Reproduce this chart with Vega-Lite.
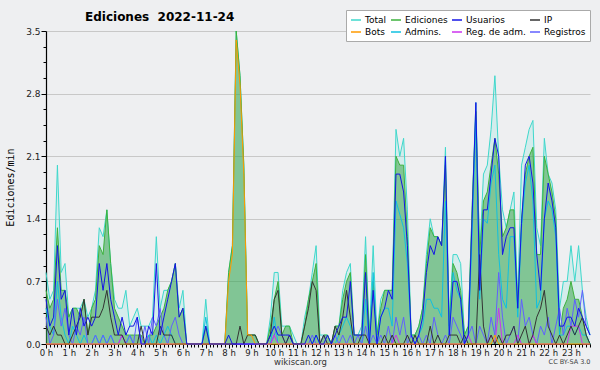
{
"$schema": "https://vega.github.io/schema/vega-lite/v6.json",
"width": 544, "height": 313,
"autosize": {"type": "none"},
"padding": {"left": 46, "top": 31, "right": 10, "bottom": 26},
"background": "#EEEFF1",
"config": {"view": {"stroke": null}, "font": "DejaVu Sans"},
"title": {"text": "Ediciones \u00a02022-11-24", "anchor": "start", "frame": "group", "dx": 39, "dy": 20, "fontSize": 12, "fontWeight": "bold", "font": "DejaVu Sans", "color": "#000", "offset": 6},
"resolve": {"axis": {"x": "independent"}},
"datasets": {"series": [
{"m":0,"Total":0.8,"Ediciones":0.6,"Usuarios":0.5,"IP":0.2,"Bots":0,"Admins":0.4,"RegAdm":0,"Registros":0.3},
{"m":10,"Total":0.5,"Ediciones":0.4,"Usuarios":0.2,"IP":0.1,"Bots":0,"Admins":0.2,"RegAdm":0,"Registros":0},
{"m":20,"Total":0.6,"Ediciones":0.5,"Usuarios":0.3,"IP":0.2,"Bots":0,"Admins":0.1,"RegAdm":0,"Registros":0.1},
{"m":30,"Total":2.0,"Ediciones":1.3,"Usuarios":1.1,"IP":0.1,"Bots":0,"Admins":0.7,"RegAdm":0,"Registros":0.5},
{"m":40,"Total":0.8,"Ediciones":0.6,"Usuarios":0.5,"IP":0.1,"Bots":0,"Admins":0.3,"RegAdm":0,"Registros":0.2},
{"m":50,"Total":0.9,"Ediciones":0.6,"Usuarios":0.6,"IP":0,"Bots":0,"Admins":0.1,"RegAdm":0,"Registros":0.4},
{"m":60,"Total":0.3,"Ediciones":0.3,"Usuarios":0.1,"IP":0,"Bots":0,"Admins":0,"RegAdm":0,"Registros":0.1},
{"m":70,"Total":0.4,"Ediciones":0.4,"Usuarios":0.4,"IP":0.1,"Bots":0,"Admins":0.2,"RegAdm":0,"Registros":0},
{"m":80,"Total":0.4,"Ediciones":0.4,"Usuarios":0.1,"IP":0.2,"Bots":0,"Admins":0.1,"RegAdm":0,"Registros":0.2},
{"m":90,"Total":0.4,"Ediciones":0.3,"Usuarios":0.4,"IP":0.3,"Bots":0,"Admins":0,"RegAdm":0,"Registros":0.1},
{"m":100,"Total":0.5,"Ediciones":0.5,"Usuarios":0.2,"IP":0.5,"Bots":0,"Admins":0.1,"RegAdm":0,"Registros":0.3},
{"m":110,"Total":0.3,"Ediciones":0.1,"Usuarios":0.3,"IP":0.1,"Bots":0,"Admins":0,"RegAdm":0,"Registros":0},
{"m":120,"Total":0.4,"Ediciones":0.4,"Usuarios":0.2,"IP":0.3,"Bots":0,"Admins":0,"RegAdm":0,"Registros":0},
{"m":130,"Total":0.6,"Ediciones":0.5,"Usuarios":0.3,"IP":0.3,"Bots":0,"Admins":0.1,"RegAdm":0,"Registros":0.1},
{"m":140,"Total":1.3,"Ediciones":1.1,"Usuarios":0.9,"IP":0.3,"Bots":0,"Admins":0,"RegAdm":0,"Registros":0},
{"m":150,"Total":1.2,"Ediciones":1.0,"Usuarios":0.6,"IP":0.4,"Bots":0,"Admins":0.1,"RegAdm":0,"Registros":0.1},
{"m":160,"Total":1.5,"Ediciones":1.5,"Usuarios":0.9,"IP":0.6,"Bots":0,"Admins":0,"RegAdm":0,"Registros":0},
{"m":170,"Total":0.9,"Ediciones":0.9,"Usuarios":0.5,"IP":0.3,"Bots":0,"Admins":0.1,"RegAdm":0,"Registros":0.1},
{"m":180,"Total":0.5,"Ediciones":0.4,"Usuarios":0.3,"IP":0.1,"Bots":0,"Admins":0,"RegAdm":0,"Registros":0},
{"m":190,"Total":0.4,"Ediciones":0.3,"Usuarios":0.1,"IP":0.1,"Bots":0,"Admins":0,"RegAdm":0,"Registros":0},
{"m":200,"Total":0.4,"Ediciones":0.2,"Usuarios":0.3,"IP":0.1,"Bots":0,"Admins":0,"RegAdm":0.1,"Registros":0.1},
{"m":210,"Total":0.6,"Ediciones":0.1,"Usuarios":0.1,"IP":0,"Bots":0,"Admins":0,"RegAdm":0,"Registros":0},
{"m":220,"Total":0.2,"Ediciones":0.1,"Usuarios":0.2,"IP":0,"Bots":0,"Admins":0.1,"RegAdm":0,"Registros":0.1},
{"m":230,"Total":0.3,"Ediciones":0.1,"Usuarios":0.2,"IP":0,"Bots":0,"Admins":0,"RegAdm":0,"Registros":0},
{"m":240,"Total":0.4,"Ediciones":0.1,"Usuarios":0.3,"IP":0,"Bots":0,"Admins":0,"RegAdm":0,"Registros":0.3},
{"m":250,"Total":0.2,"Ediciones":0.1,"Usuarios":0,"IP":0.2,"Bots":0,"Admins":0,"RegAdm":0,"Registros":0},
{"m":260,"Total":0.2,"Ediciones":0,"Usuarios":0,"IP":0,"Bots":0,"Admins":0,"RegAdm":0,"Registros":0.2},
{"m":270,"Total":0.2,"Ediciones":0.1,"Usuarios":0.2,"IP":0,"Bots":0,"Admins":0.1,"RegAdm":0,"Registros":0},
{"m":280,"Total":0.3,"Ediciones":0.1,"Usuarios":0.1,"IP":0,"Bots":0,"Admins":0,"RegAdm":0,"Registros":0.3},
{"m":290,"Total":1.2,"Ediciones":0.2,"Usuarios":0.9,"IP":0,"Bots":0,"Admins":0.1,"RegAdm":0,"Registros":0.2},
{"m":300,"Total":0.4,"Ediciones":0.3,"Usuarios":0.1,"IP":0.2,"Bots":0,"Admins":0,"RegAdm":0,"Registros":0.4},
{"m":310,"Total":0.6,"Ediciones":0.4,"Usuarios":0.3,"IP":0.1,"Bots":0,"Admins":0.1,"RegAdm":0,"Registros":0.1},
{"m":320,"Total":0.6,"Ediciones":0.6,"Usuarios":0.5,"IP":0.1,"Bots":0,"Admins":0.2,"RegAdm":0,"Registros":0},
{"m":330,"Total":0.7,"Ediciones":0.7,"Usuarios":0.7,"IP":0.1,"Bots":0,"Admins":0.1,"RegAdm":0,"Registros":0.2},
{"m":340,"Total":0.9,"Ediciones":0.9,"Usuarios":0.9,"IP":0,"Bots":0,"Admins":0,"RegAdm":0,"Registros":0.3},
{"m":350,"Total":0.4,"Ediciones":0.3,"Usuarios":0.3,"IP":0,"Bots":0,"Admins":0,"RegAdm":0,"Registros":0.1},
{"m":360,"Total":0.6,"Ediciones":0.4,"Usuarios":0.4,"IP":0,"Bots":0,"Admins":0,"RegAdm":0,"Registros":0},
{"m":370,"Total":0,"Ediciones":0,"Usuarios":0,"IP":0,"Bots":0,"Admins":0,"RegAdm":0,"Registros":0},
{"m":380,"Total":0,"Ediciones":0,"Usuarios":0,"IP":0,"Bots":0,"Admins":0,"RegAdm":0,"Registros":0},
{"m":390,"Total":0,"Ediciones":0,"Usuarios":0,"IP":0,"Bots":0,"Admins":0,"RegAdm":0,"Registros":0},
{"m":400,"Total":0,"Ediciones":0,"Usuarios":0,"IP":0,"Bots":0,"Admins":0,"RegAdm":0,"Registros":0},
{"m":410,"Total":0,"Ediciones":0,"Usuarios":0,"IP":0,"Bots":0,"Admins":0,"RegAdm":0,"Registros":0},
{"m":420,"Total":0.5,"Ediciones":0.2,"Usuarios":0.2,"IP":0,"Bots":0,"Admins":0.3,"RegAdm":0,"Registros":0},
{"m":430,"Total":0,"Ediciones":0,"Usuarios":0,"IP":0,"Bots":0,"Admins":0,"RegAdm":0,"Registros":0},
{"m":440,"Total":0,"Ediciones":0,"Usuarios":0,"IP":0,"Bots":0,"Admins":0,"RegAdm":0,"Registros":0},
{"m":450,"Total":0,"Ediciones":0,"Usuarios":0,"IP":0,"Bots":0,"Admins":0,"RegAdm":0,"Registros":0},
{"m":460,"Total":0,"Ediciones":0,"Usuarios":0,"IP":0,"Bots":0,"Admins":0,"RegAdm":0,"Registros":0},
{"m":470,"Total":0,"Ediciones":0,"Usuarios":0,"IP":0,"Bots":0,"Admins":0,"RegAdm":0,"Registros":0},
{"m":480,"Total":0.8,"Ediciones":0.8,"Usuarios":0.1,"IP":0,"Bots":0.7,"Admins":0,"RegAdm":0,"Registros":0},
{"m":490,"Total":1.1,"Ediciones":1.1,"Usuarios":0,"IP":0,"Bots":1.0,"Admins":0,"RegAdm":0,"Registros":0},
{"m":500,"Total":3.5,"Ediciones":3.5,"Usuarios":0,"IP":0,"Bots":3.4,"Admins":0,"RegAdm":0,"Registros":0},
{"m":510,"Total":3.0,"Ediciones":3.0,"Usuarios":0,"IP":0.2,"Bots":2.9,"Admins":0,"RegAdm":0,"Registros":0},
{"m":520,"Total":2.0,"Ediciones":2.0,"Usuarios":0,"IP":0,"Bots":1.9,"Admins":0,"RegAdm":0,"Registros":0},
{"m":530,"Total":0.1,"Ediciones":0.1,"Usuarios":0,"IP":0.1,"Bots":0.1,"Admins":0,"RegAdm":0,"Registros":0},
{"m":540,"Total":0.1,"Ediciones":0.1,"Usuarios":0,"IP":0.1,"Bots":0.1,"Admins":0,"RegAdm":0,"Registros":0},
{"m":550,"Total":0.1,"Ediciones":0.1,"Usuarios":0,"IP":0.1,"Bots":0,"Admins":0,"RegAdm":0,"Registros":0},
{"m":560,"Total":0,"Ediciones":0,"Usuarios":0,"IP":0,"Bots":0,"Admins":0,"RegAdm":0,"Registros":0},
{"m":570,"Total":0,"Ediciones":0,"Usuarios":0,"IP":0,"Bots":0,"Admins":0,"RegAdm":0,"Registros":0},
{"m":580,"Total":0,"Ediciones":0,"Usuarios":0,"IP":0,"Bots":0,"Admins":0,"RegAdm":0,"Registros":0},
{"m":590,"Total":0.3,"Ediciones":0.2,"Usuarios":0.1,"IP":0.1,"Bots":0,"Admins":0,"RegAdm":0,"Registros":0},
{"m":600,"Total":0.8,"Ediciones":0.5,"Usuarios":0.2,"IP":0.5,"Bots":0,"Admins":0.3,"RegAdm":0.1,"Registros":0.1},
{"m":610,"Total":0.8,"Ediciones":0.7,"Usuarios":0.1,"IP":0.6,"Bots":0,"Admins":0,"RegAdm":0,"Registros":0.2},
{"m":620,"Total":0.2,"Ediciones":0.1,"Usuarios":0.1,"IP":0.1,"Bots":0,"Admins":0,"RegAdm":0,"Registros":0.1},
{"m":630,"Total":0.2,"Ediciones":0.2,"Usuarios":0.1,"IP":0,"Bots":0,"Admins":0,"RegAdm":0,"Registros":0},
{"m":640,"Total":0.2,"Ediciones":0.2,"Usuarios":0.1,"IP":0.1,"Bots":0,"Admins":0.1,"RegAdm":0,"Registros":0.1},
{"m":650,"Total":0.1,"Ediciones":0,"Usuarios":0,"IP":0,"Bots":0,"Admins":0,"RegAdm":0,"Registros":0},
{"m":660,"Total":0,"Ediciones":0,"Usuarios":0,"IP":0,"Bots":0,"Admins":0,"RegAdm":0,"Registros":0},
{"m":670,"Total":0,"Ediciones":0,"Usuarios":0,"IP":0,"Bots":0,"Admins":0,"RegAdm":0,"Registros":0},
{"m":680,"Total":0.3,"Ediciones":0.2,"Usuarios":0,"IP":0.2,"Bots":0,"Admins":0,"RegAdm":0,"Registros":0},
{"m":690,"Total":0.5,"Ediciones":0.5,"Usuarios":0.1,"IP":0.4,"Bots":0,"Admins":0,"RegAdm":0,"Registros":0},
{"m":700,"Total":0.8,"Ediciones":0.7,"Usuarios":0,"IP":0.7,"Bots":0,"Admins":0,"RegAdm":0,"Registros":0.1},
{"m":710,"Total":1.1,"Ediciones":0.9,"Usuarios":0.1,"IP":0.6,"Bots":0,"Admins":0.1,"RegAdm":0,"Registros":0},
{"m":720,"Total":0.1,"Ediciones":0,"Usuarios":0,"IP":0,"Bots":0,"Admins":0,"RegAdm":0,"Registros":0},
{"m":730,"Total":0.1,"Ediciones":0.1,"Usuarios":0,"IP":0.1,"Bots":0,"Admins":0,"RegAdm":0,"Registros":0.1},
{"m":740,"Total":0.1,"Ediciones":0.1,"Usuarios":0.1,"IP":0,"Bots":0,"Admins":0,"RegAdm":0,"Registros":0},
{"m":750,"Total":0,"Ediciones":0,"Usuarios":0,"IP":0,"Bots":0,"Admins":0,"RegAdm":0,"Registros":0},
{"m":760,"Total":0.2,"Ediciones":0.2,"Usuarios":0.1,"IP":0.2,"Bots":0,"Admins":0,"RegAdm":0,"Registros":0.1},
{"m":770,"Total":0.2,"Ediciones":0.2,"Usuarios":0.2,"IP":0.1,"Bots":0,"Admins":0.1,"RegAdm":0,"Registros":0},
{"m":780,"Total":0.6,"Ediciones":0.5,"Usuarios":0.3,"IP":0.3,"Bots":0,"Admins":0.2,"RegAdm":0,"Registros":0.1},
{"m":790,"Total":0.8,"Ediciones":0.7,"Usuarios":0.3,"IP":0.6,"Bots":0,"Admins":0.3,"RegAdm":0,"Registros":0},
{"m":800,"Total":0.9,"Ediciones":0.8,"Usuarios":0.7,"IP":0.3,"Bots":0,"Admins":0.2,"RegAdm":0,"Registros":0.1},
{"m":810,"Total":0.1,"Ediciones":0.1,"Usuarios":0.1,"IP":0,"Bots":0,"Admins":0,"RegAdm":0,"Registros":0},
{"m":820,"Total":0.1,"Ediciones":0.1,"Usuarios":0.1,"IP":0,"Bots":0,"Admins":0,"RegAdm":0,"Registros":0.1},
{"m":830,"Total":0.2,"Ediciones":0.1,"Usuarios":0.1,"IP":0.1,"Bots":0,"Admins":0,"RegAdm":0,"Registros":0},
{"m":840,"Total":1.2,"Ediciones":1.0,"Usuarios":0.8,"IP":0.1,"Bots":0,"Admins":0.5,"RegAdm":0,"Registros":0.2},
{"m":850,"Total":0.1,"Ediciones":0.1,"Usuarios":0,"IP":0,"Bots":0,"Admins":0,"RegAdm":0,"Registros":0},
{"m":860,"Total":1.1,"Ediciones":0.7,"Usuarios":0.6,"IP":0,"Bots":0,"Admins":0.8,"RegAdm":0,"Registros":0.1},
{"m":870,"Total":0.1,"Ediciones":0.1,"Usuarios":0,"IP":0,"Bots":0,"Admins":0,"RegAdm":0,"Registros":0},
{"m":880,"Total":0.5,"Ediciones":0.4,"Usuarios":0.3,"IP":0,"Bots":0,"Admins":0.3,"RegAdm":0,"Registros":0.1},
{"m":890,"Total":0.6,"Ediciones":0.6,"Usuarios":0.4,"IP":0.1,"Bots":0,"Admins":0.4,"RegAdm":0,"Registros":0},
{"m":900,"Total":0.6,"Ediciones":0.6,"Usuarios":0.6,"IP":0,"Bots":0,"Admins":0.4,"RegAdm":0,"Registros":0.2},
{"m":910,"Total":0.6,"Ediciones":0.6,"Usuarios":0.5,"IP":0.1,"Bots":0,"Admins":0.2,"RegAdm":0,"Registros":0},
{"m":920,"Total":2.4,"Ediciones":2.1,"Usuarios":1.9,"IP":0,"Bots":0,"Admins":1.6,"RegAdm":0.1,"Registros":0.3},
{"m":930,"Total":2.1,"Ediciones":2.0,"Usuarios":1.9,"IP":0,"Bots":0,"Admins":1.45,"RegAdm":0,"Registros":0.1},
{"m":940,"Total":2.3,"Ediciones":2.0,"Usuarios":1.7,"IP":0,"Bots":0,"Admins":1.3,"RegAdm":0,"Registros":0.3},
{"m":950,"Total":1.5,"Ediciones":1.2,"Usuarios":1.1,"IP":0.1,"Bots":0,"Admins":0.9,"RegAdm":0,"Registros":0},
{"m":960,"Total":0.1,"Ediciones":0.1,"Usuarios":0.1,"IP":0,"Bots":0,"Admins":0.1,"RegAdm":0,"Registros":0.1},
{"m":970,"Total":0.1,"Ediciones":0.1,"Usuarios":0,"IP":0.1,"Bots":0,"Admins":0,"RegAdm":0,"Registros":0},
{"m":980,"Total":0.2,"Ediciones":0.2,"Usuarios":0.1,"IP":0,"Bots":0,"Admins":0.1,"RegAdm":0,"Registros":0.1},
{"m":990,"Total":0.4,"Ediciones":0.4,"Usuarios":0.3,"IP":0,"Bots":0,"Admins":0.2,"RegAdm":0,"Registros":0},
{"m":1000,"Total":1.0,"Ediciones":0.9,"Usuarios":0.8,"IP":0,"Bots":0,"Admins":0.5,"RegAdm":0,"Registros":0.1},
{"m":1010,"Total":1.4,"Ediciones":1.3,"Usuarios":1.1,"IP":0.2,"Bots":0,"Admins":0.5,"RegAdm":0,"Registros":0},
{"m":1020,"Total":1.2,"Ediciones":1.2,"Usuarios":1.0,"IP":0,"Bots":0,"Admins":0.4,"RegAdm":0,"Registros":0.3},
{"m":1030,"Total":1.2,"Ediciones":1.2,"Usuarios":1.2,"IP":0.1,"Bots":0,"Admins":0.4,"RegAdm":0,"Registros":0.1},
{"m":1040,"Total":1.1,"Ediciones":1.1,"Usuarios":1.1,"IP":0,"Bots":0,"Admins":0.3,"RegAdm":0,"Registros":0},
{"m":1050,"Total":2.2,"Ediciones":2.0,"Usuarios":2.1,"IP":0,"Bots":0,"Admins":1.6,"RegAdm":0,"Registros":0.1},
{"m":1060,"Total":0.3,"Ediciones":0.2,"Usuarios":0.1,"IP":0.1,"Bots":0,"Admins":0.1,"RegAdm":0,"Registros":0},
{"m":1070,"Total":1.0,"Ediciones":0.9,"Usuarios":0.7,"IP":0.1,"Bots":0,"Admins":0.8,"RegAdm":0,"Registros":0.3},
{"m":1080,"Total":1.0,"Ediciones":0.8,"Usuarios":0.7,"IP":0.1,"Bots":0,"Admins":0.6,"RegAdm":0,"Registros":0.2},
{"m":1090,"Total":0.9,"Ediciones":0.6,"Usuarios":0.5,"IP":0,"Bots":0,"Admins":0.5,"RegAdm":0,"Registros":0.1},
{"m":1100,"Total":0.1,"Ediciones":0.1,"Usuarios":0,"IP":0.1,"Bots":0,"Admins":0,"RegAdm":0,"Registros":0},
{"m":1110,"Total":0.2,"Ediciones":0.2,"Usuarios":0.1,"IP":0,"Bots":0,"Admins":0.1,"RegAdm":0.1,"Registros":0.1},
{"m":1120,"Total":1.5,"Ediciones":1.5,"Usuarios":1.4,"IP":0,"Bots":0,"Admins":1.2,"RegAdm":0,"Registros":0.2},
{"m":1130,"Total":2.7,"Ediciones":2.6,"Usuarios":2.7,"IP":0,"Bots":0,"Admins":2.5,"RegAdm":0,"Registros":0},
{"m":1140,"Total":1.0,"Ediciones":1.0,"Usuarios":0.6,"IP":1.0,"Bots":0,"Admins":0.5,"RegAdm":0,"Registros":0.2},
{"m":1150,"Total":1.9,"Ediciones":1.6,"Usuarios":1.5,"IP":0.2,"Bots":0,"Admins":1.4,"RegAdm":0,"Registros":0.1},
{"m":1160,"Total":2.0,"Ediciones":1.7,"Usuarios":1.5,"IP":0,"Bots":0,"Admins":1.35,"RegAdm":0,"Registros":0},
{"m":1170,"Total":2.4,"Ediciones":2.0,"Usuarios":1.9,"IP":0.1,"Bots":0,"Admins":1.8,"RegAdm":0.1,"Registros":0.3},
{"m":1180,"Total":3.0,"Ediciones":2.3,"Usuarios":2.3,"IP":0,"Bots":0.1,"Admins":2.0,"RegAdm":0,"Registros":0.1},
{"m":1190,"Total":2.1,"Ediciones":1.9,"Usuarios":2.1,"IP":0.1,"Bots":0,"Admins":1.0,"RegAdm":0.4,"Registros":0.8},
{"m":1200,"Total":1.5,"Ediciones":1.2,"Usuarios":1.0,"IP":0,"Bots":0,"Admins":0.5,"RegAdm":0,"Registros":0.3},
{"m":1210,"Total":1.3,"Ediciones":1.3,"Usuarios":1.2,"IP":0.1,"Bots":0,"Admins":0.4,"RegAdm":0,"Registros":0},
{"m":1220,"Total":1.5,"Ediciones":1.5,"Usuarios":1.3,"IP":0.1,"Bots":0,"Admins":1.2,"RegAdm":0,"Registros":0.1},
{"m":1230,"Total":1.7,"Ediciones":1.5,"Usuarios":1.3,"IP":0.2,"Bots":0,"Admins":1.2,"RegAdm":0,"Registros":0.2},
{"m":1240,"Total":0.5,"Ediciones":0.4,"Usuarios":0.4,"IP":0,"Bots":0,"Admins":0.3,"RegAdm":0.1,"Registros":0},
{"m":1250,"Total":2.0,"Ediciones":1.4,"Usuarios":1.35,"IP":0.1,"Bots":0,"Admins":1.3,"RegAdm":0,"Registros":0.5},
{"m":1260,"Total":2.2,"Ediciones":1.9,"Usuarios":2.0,"IP":0.2,"Bots":0,"Admins":1.8,"RegAdm":0,"Registros":0.2},
{"m":1270,"Total":2.4,"Ediciones":2.1,"Usuarios":2.1,"IP":0,"Bots":0,"Admins":2.0,"RegAdm":0,"Registros":0.3},
{"m":1280,"Total":2.5,"Ediciones":2.2,"Usuarios":1.8,"IP":0.1,"Bots":0,"Admins":1.6,"RegAdm":0.1,"Registros":0.1},
{"m":1290,"Total":1.3,"Ediciones":1.0,"Usuarios":1.0,"IP":0.3,"Bots":0,"Admins":0.4,"RegAdm":0,"Registros":0},
{"m":1300,"Total":1.1,"Ediciones":1.0,"Usuarios":0.6,"IP":0.4,"Bots":0,"Admins":0.5,"RegAdm":0,"Registros":0.2},
{"m":1310,"Total":2.3,"Ediciones":2.1,"Usuarios":1.4,"IP":0.6,"Bots":0,"Admins":1.4,"RegAdm":0,"Registros":0.1},
{"m":1320,"Total":1.9,"Ediciones":1.9,"Usuarios":1.8,"IP":0.2,"Bots":0,"Admins":1.6,"RegAdm":0,"Registros":0.3},
{"m":1330,"Total":1.8,"Ediciones":1.7,"Usuarios":1.6,"IP":0.1,"Bots":0,"Admins":1.5,"RegAdm":0,"Registros":0},
{"m":1340,"Total":1.5,"Ediciones":1.4,"Usuarios":1.3,"IP":0,"Bots":0,"Admins":1.2,"RegAdm":0,"Registros":0.2},
{"m":1350,"Total":0.4,"Ediciones":0.1,"Usuarios":0.2,"IP":0.1,"Bots":0,"Admins":0.1,"RegAdm":0,"Registros":0.4},
{"m":1360,"Total":0.7,"Ediciones":0.4,"Usuarios":0.2,"IP":0,"Bots":0,"Admins":0.1,"RegAdm":0,"Registros":0.1},
{"m":1370,"Total":0.7,"Ediciones":0.5,"Usuarios":0.3,"IP":0.1,"Bots":0,"Admins":0.2,"RegAdm":0,"Registros":0.4},
{"m":1380,"Total":1.1,"Ediciones":0.7,"Usuarios":0.3,"IP":0.2,"Bots":0,"Admins":0.2,"RegAdm":0.2,"Registros":0.2},
{"m":1390,"Total":0.7,"Ediciones":0.5,"Usuarios":0.2,"IP":0.1,"Bots":0,"Admins":0.1,"RegAdm":0.2,"Registros":0.5},
{"m":1400,"Total":1.1,"Ediciones":0.5,"Usuarios":0.4,"IP":0.2,"Bots":0,"Admins":0.2,"RegAdm":0.2,"Registros":0.3},
{"m":1410,"Total":0.6,"Ediciones":0.3,"Usuarios":0.3,"IP":0.3,"Bots":0,"Admins":0.1,"RegAdm":0,"Registros":0.6},
{"m":1420,"Total":0.3,"Ediciones":0.1,"Usuarios":0.2,"IP":0.1,"Bots":0,"Admins":0.1,"RegAdm":0,"Registros":0.2},
{"m":1430,"Total":0.1,"Ediciones":0,"Usuarios":0.1,"IP":0,"Bots":0,"Admins":0,"RegAdm":0,"Registros":0.1}
]},
"data": {"name": "series"},
"encoding": {
  "x": {"field": "m", "type": "quantitative", "scale": {"domain": [0, 1430], "nice": false, "zero": false},
    "axis": {"orient": "bottom", "title": "wikiscan.org", "titleFont": "DejaVu Sans", "titleFontSize": 8.5, "titleFontWeight": "normal", "titleColor": "#333", "titleX": 254, "titleY": 13, "titleBaseline": "top", "titleAnchor": null,
      "tickCount": 144, "labelExpr": "datum.value % 60 == 0 ? (datum.value/60) + ' h' : ''",
      "labelOverlap": false, "labelFlush": false, "labelBound": false, "labelFontSize": 8.5, "labelColor": "#222", "labelPadding": 0,
      "tickColor": "#000", "tickSize": {"condition": {"test": "datum.value % 60 == 0", "value": 4}, "value": 3},
      "domainColor": "#000", "domainWidth": 1.2, "grid": false}},
  "y": {"field": "v", "type": "quantitative", "scale": {"domain": [0, 3.5], "nice": false},
    "axis": {"title": "Ediciones/min", "titleFont": "DejaVu Sans Mono", "titleFontSize": 10, "titleFontWeight": "normal", "titleColor": "#000", "titleX": -36, "titleY": 156, "titleBaseline": "middle", "titleAngle": -90, "titleAnchor": null,
      "values": [0,0.175,0.35,0.525,0.7,0.875,1.05,1.225,1.4,1.575,1.75,1.925,2.1,2.275,2.45,2.625,2.8,2.975,3.15,3.325,3.5],
      "labelExpr": "abs(datum.value/0.7 - round(datum.value/0.7)) < 0.01 ? format(datum.value, '.1f') : ''",
      "labelFontSize": 9, "labelColor": "#222", "labelPadding": 1, "labelOverlap": false, "labelFlush": false, "labelBound": false,
      "tickColor": "#000", "tickSize": {"condition": {"test": "abs(datum.value/0.7 - round(datum.value/0.7)) < 0.01", "value": 5}, "value": 3},
      "domainColor": "#000", "domainWidth": 1.2,
      "grid": true, "gridColor": "#C8C8C8", "gridOpacity": {"condition": {"test": "abs(datum.value/0.7 - round(datum.value/0.7)) < 0.01 && datum.value > 0", "value": 1}, "value": 0}}}
},
"layer": [
  {"transform": [{"fold": ["Total"], "as": ["serie","v"]}], "mark": {"type": "area", "color": "#40E0D0", "opacity": 0.15},
   "encoding": {"x": {"field": "m", "type": "quantitative", "scale": {"domain": [0, 1430], "nice": false, "zero": false},
     "axis": {"title": "CC BY-SA 3.0", "orient": "bottom", "labels": false, "ticks": false, "domain": false, "grid": false,
       "titleFont": "DejaVu Sans", "titleFontSize": 6.5, "titleFontWeight": "normal", "titleColor": "#444",
       "titleX": 544, "titleY": 14, "titleAlign": "right", "titleBaseline": "top", "titleAnchor": null}}}},
  {"transform": [{"fold": ["Ediciones"], "as": ["serie","v"]}], "mark": {"type": "area", "color": "#2E9E3E", "opacity": 0.5},
   "encoding": {"x": {"field": "m", "type": "quantitative", "scale": {"domain": [0, 1430], "nice": false, "zero": false}, "axis": null}}},
  {"transform": [{"fold": ["Total","Ediciones","Admins","Registros","RegAdm","IP","Bots","Usuarios"], "as": ["serie","v"]}],
   "mark": {"type": "line", "strokeWidth": 1},
   "encoding": {"color": {"field": "serie", "type": "nominal",
     "scale": {"domain": ["Total","Ediciones","Usuarios","IP","Bots","Admins","RegAdm","Registros"],
               "range": ["#3ED8CC","#3DB23D","#1414E6","#333333","#FF9A00","#10C0E0","#CC33EE","#6060FF"]},
     "legend": {"title": null, "orient": "none", "legendX": 300, "legendY": -21, "direction": "horizontal", "columns": 4,
       "fillColor": "#FFFFFF", "strokeColor": "#AAAAAA", "padding": 4, "rowPadding": 1, "columnPadding": 1,
       "symbolType": "stroke", "symbolSize": 100, "symbolStrokeWidth": 1.5, "labelOffset": 3,
       "labelFont": "DejaVu Sans", "labelFontSize": 9, "labelColor": "#000",
       "labelExpr": "datum.label == 'Admins' ? 'Admins.' : datum.label == 'RegAdm' ? 'Reg. de adm.' : datum.label"}}}}
]
}
